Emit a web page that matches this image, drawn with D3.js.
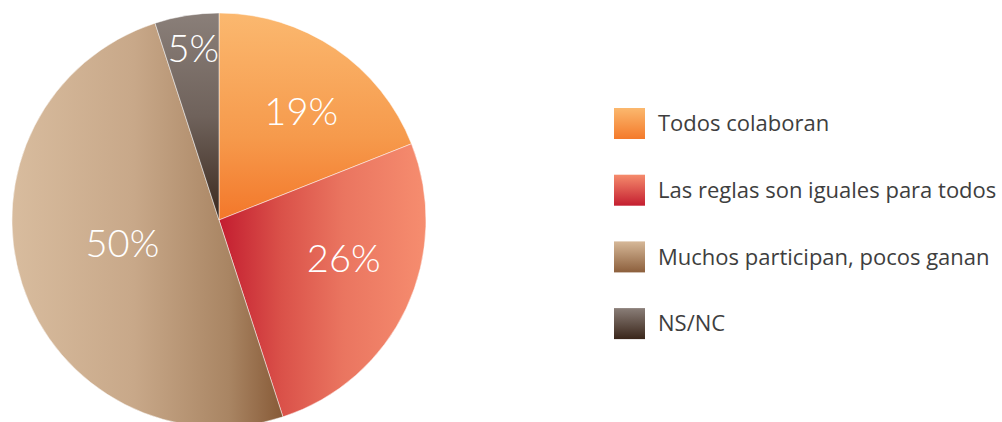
<!DOCTYPE html>
<html lang="es">
<head>
<meta charset="UTF-8">
<title>Pie</title>
<script src="https://cdn.jsdelivr.net/npm/d3@7"></script>
<style>
  body { margin: 0; background: #fff; }
  svg { display: block; }
</style>
</head>
<body>
<script>
    // datos
    const categories = ['Todos colaboran', 'Las reglas son iguales para todos', 'Muchos participan, pocos ganan', 'NS/NC'];
    const values = [19, 26, 50, 5];
    const labels = ['19%', '26%', '50%', '5%'];

    // degradados de cada porción: paradas [offset, color] y dirección
    const pieGrad = [
        {stops: [[0, '#fbb86f'], [0.6, '#f69a4c'], [1, '#f3772a']], x2: 0, y2: 1},
        {stops: [[0, '#c31d30'], [0.3, '#da5149'], [0.6, '#ea7560'], [1, '#f68d6f']], x2: 1, y2: 0},
        {stops: [[0, '#d8bc9e'], [0.45, '#c8a889'], [0.8, '#a98563'], [1, '#875a37']], x2: 1, y2: 0},
        {stops: [[0, '#8a7f79'], [0.5, '#6f625b'], [1, '#3a281d']], x2: 0, y2: 1}
    ];
    const legendGrad = [
        ['#fbb86e', '#f47a2b'],
        ['#f58b6c', '#c41e30'],
        ['#d6b898', '#8c5f3c'],
        ['#8a7e78', '#3a261a']
    ];
    // posición de etiquetas: [ángulo en grados, fracción del radio]
    const labelPos = [[37, 0.66], [107, 0.63], [256.5, 0.48], [351.5, 0.84]];

    const w = 1002, h = 422;
    const cx = 219, cy = 220, r = 207;

    const svg = d3.select('body').append('svg')
        .attr('width', w)
        .attr('height', h);

    const defs = svg.append('defs');
    pieGrad.forEach((g, i) => {
        const lg = defs.append('linearGradient')
            .attr('id', 'pg' + i)
            .attr('x1', 0).attr('y1', 0).attr('x2', g.x2).attr('y2', g.y2);
        g.stops.forEach(s => {
            lg.append('stop').attr('offset', s[0]).attr('stop-color', s[1]);
        });
    });
    legendGrad.forEach((g, i) => {
        const lg = defs.append('linearGradient')
            .attr('id', 'lg' + i)
            .attr('x1', 0).attr('y1', 0).attr('x2', 0).attr('y2', 1);
        lg.append('stop').attr('offset', 0).attr('stop-color', g[0]);
        lg.append('stop').attr('offset', 1).attr('stop-color', g[1]);
    });

    const pie = d3.pie().sort(null).value(d => d);
    const arc = d3.arc().innerRadius(0).outerRadius(r);
    const arcs = pie(values);

    const g = svg.append('g').attr('transform', `translate(${cx},${cy})`);

    g.selectAll('path')
        .data(arcs)
        .enter()
        .append('path')
        .attr('d', arc)
        .attr('fill', (d, i) => `url(#pg${i})`)
        .attr('stroke', '#fff')
        .attr('stroke-opacity', 0.6)
        .attr('stroke-width', 0.8);

    g.selectAll('text')
        .data(arcs)
        .enter()
        .append('text')
        .text((d, i) => labels[i])
        .attr('x', (d, i) => Math.sin(labelPos[i][0] * Math.PI / 180) * labelPos[i][1] * r)
        .attr('y', (d, i) => -Math.cos(labelPos[i][0] * Math.PI / 180) * labelPos[i][1] * r)
        .attr('dy', '0.36em')
        .attr('text-anchor', 'middle')
        .attr('font-family', 'Lato, "Open Sans", sans-serif')
        .attr('font-weight', 300)
        .attr('font-size', '38px')
        .attr('fill', '#fff');

    // leyenda
    const legend = svg.append('g').attr('transform', 'translate(614,108)');
    const items = legend.selectAll('g')
        .data(categories)
        .enter()
        .append('g')
        .attr('transform', (d, i) => `translate(0,${i * 66.7})`);

    items.append('rect')
        .attr('width', 31)
        .attr('height', 31)
        .attr('fill', (d, i) => `url(#lg${i})`);

    items.append('text')
        .text(d => d)
        .attr('x', 44)
        .attr('y', 15.5)
        .attr('dy', '0.35em')
        .attr('font-family', '"Open Sans", sans-serif')
        .attr('font-size', '22px')
        .attr('fill', '#3e3e3e');
</script>
</body>
</html>
